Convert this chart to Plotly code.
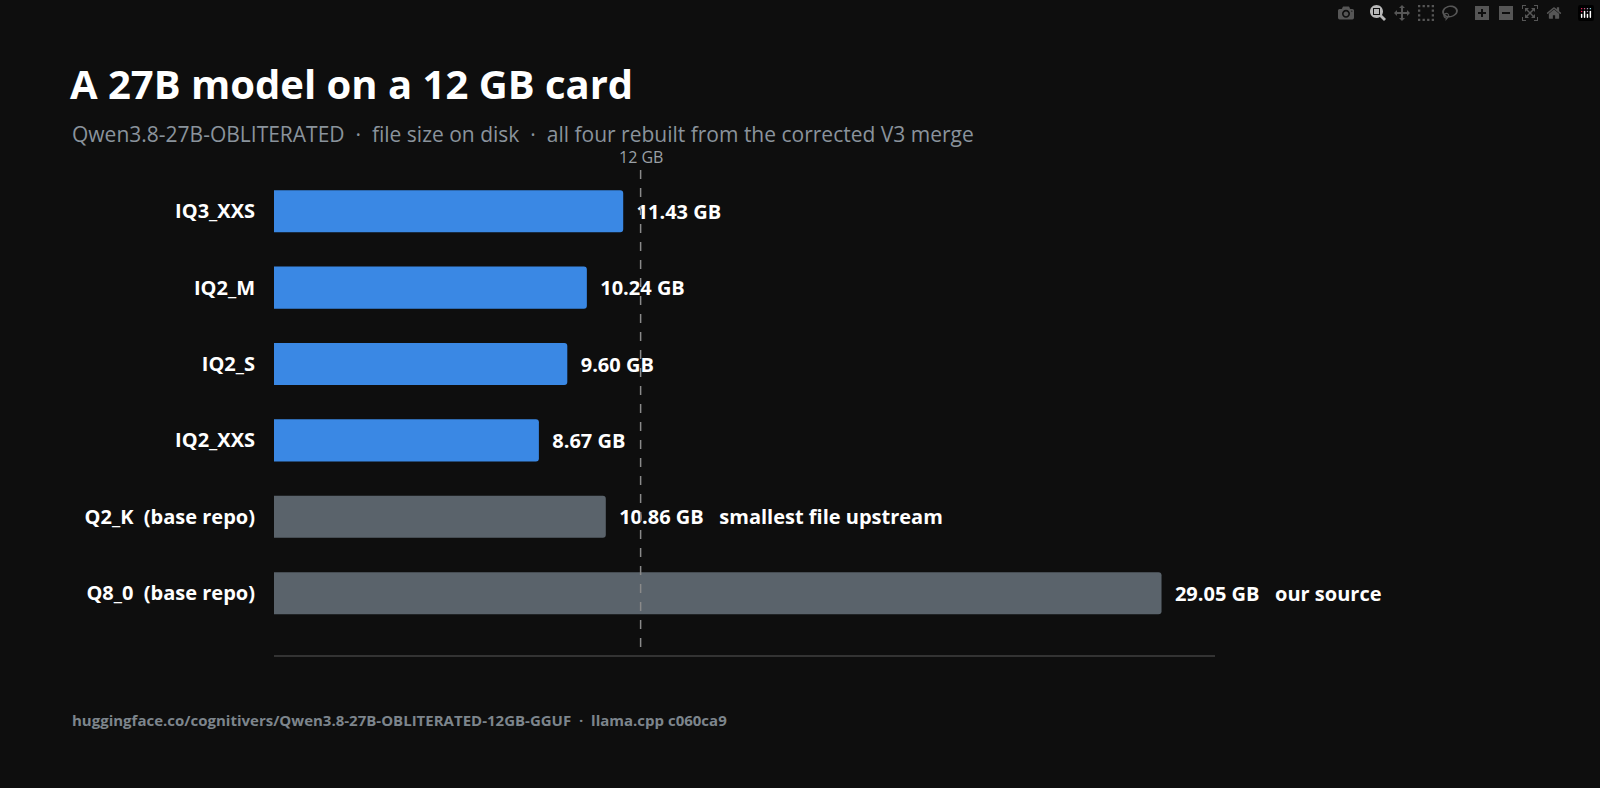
import plotly.graph_objects as go

cats = ["IQ3_XXS", "IQ2_M", "IQ2_S", "IQ2_XXS", "Q2_K  (base repo)", "Q8_0  (base repo)"]
sizes = [11.43, 10.24, 9.60, 8.67, 10.86, 29.05]
notes = ["", "", "", "", "smallest file upstream", "our source"]
colors = ["#3a88e4"] * 4 + ["#5a636b"] * 2
threshold = 12

labels = ["  " + f"{v:.2f} GB" + (f"   {n}" if n else "") for v, n in zip(sizes, notes)]

fig = go.Figure(go.Bar(
    x=sizes, y=cats, orientation="h", marker=dict(color=colors, cornerradius=3, line_width=0),
    width=0.55, text=labels, textposition="outside", cliponaxis=False,
    texttemplate="<b>%{text}</b>",
    textfont=dict(color="white", size=20, family="Open Sans"), hoverinfo="skip"))

fig.add_shape(type="line", x0=threshold, x1=threshold, y0=-0.54, y1=5.72, xref="x", yref="y",
              line=dict(color="#8a8a8a", width=1.5, dash="dash"))

pw, ph = 1600 - 274 - 385, 788 - 170 - 133
def px(x): return (x - 274) / pw
def py(y): return (788 - 133 - y) / ph

fig.add_annotation(x=threshold, xref="x", y=py(157), yref="paper", yanchor="middle", text="12 GB",
                   showarrow=False, font=dict(color="#9aa0a6", size=16, family="Open Sans"))
fig.add_annotation(x=px(70), y=py(134), xref="paper", yref="paper", xanchor="left", yanchor="middle",
                   text="Qwen3.8-27B-OBLITERATED  ·  file size on disk  ·  all four rebuilt from the corrected V3 merge",
                   showarrow=False, font=dict(size=21, color="#8a939c", family="Open Sans"))
fig.add_annotation(x=px(70), y=py(720), xref="paper", yref="paper", xanchor="left", yanchor="middle",
                   showarrow=False,
                   text="<b>huggingface.co/cognitivers/Qwen3.8-27B-OBLITERATED-12GB-GGUF  ·  llama.cpp c060ca9</b>",
                   font=dict(size=15, color="#7d858c", family="Open Sans"))

fig.update_layout(
    width=1600, height=788, paper_bgcolor="#0e0e0e", plot_bgcolor="#0e0e0e",
    margin=dict(l=274, r=385, t=170, b=133), showlegend=False,
    font=dict(family="Open Sans", color="white"),
    title=dict(text="<b>A 27B model on a 12 GB card</b>", x=70/1600, xref="container", xanchor="left",
               y=1-85/788, yref="container", yanchor="middle",
               font=dict(size=40, color="white", family="Open Sans")),
    xaxis=dict(range=[0, 30.8], showgrid=False, zeroline=False, showticklabels=False,
               showline=True, linecolor="#333333", linewidth=2),
    yaxis=dict(range=[5.81, -0.54], showgrid=False, zeroline=False, ticks="",
               tickvals=cats, ticktext=[f"<b>{c}</b>" for c in cats],
               tickfont=dict(size=20, color="white", family="Open Sans"), ticklabelstandoff=18),
)
fig.write_html("out.html")
with open("out.html", encoding="utf-8") as f:
    html = f.read()
html = html.replace("<body>", '<body style="margin:0;background:#0e0e0e;overflow:hidden">', 1)
with open("out.html", "w", encoding="utf-8") as f:
    f.write(html)
